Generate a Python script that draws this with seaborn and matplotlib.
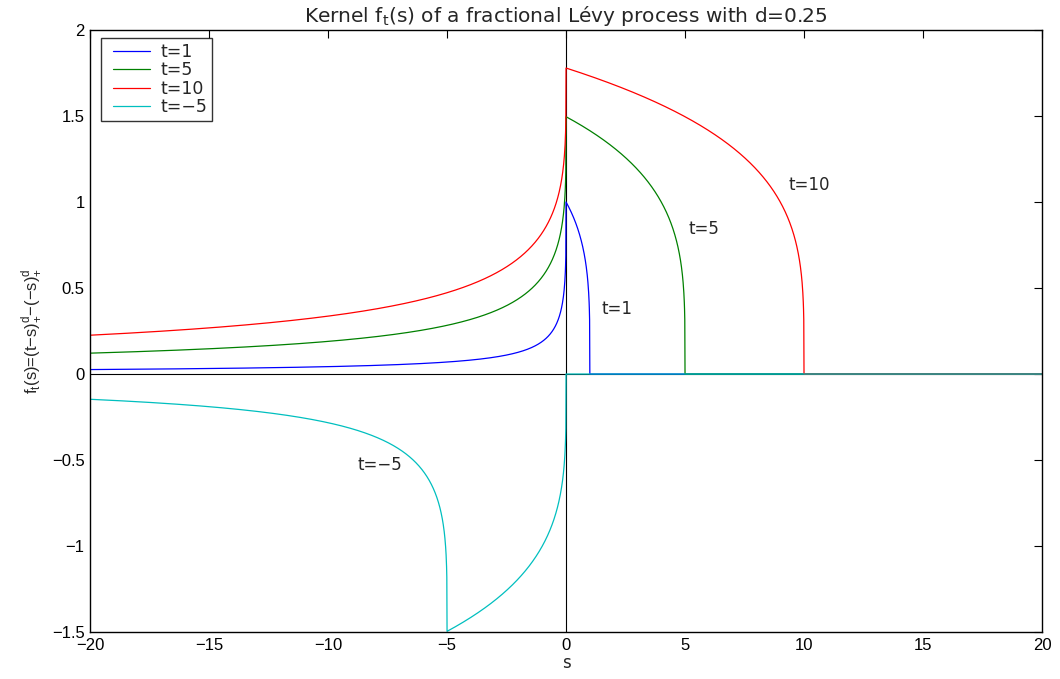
import numpy as np
import pandas as pd
import matplotlib
matplotlib.use("Agg")
import matplotlib.pyplot as plt
from matplotlib.lines import Line2D
from matplotlib.legend_handler import HandlerLine2D
import seaborn as sns

# Parameters
d = 0.25
t_values = [1, 5, 10, -5]
labels = ["t=1", "t=5", "t=10", "t=\u22125"]
colors = ["#0000ff", "#008000", "#ff0000", "#00bfbf"]
s_min, s_max, s_step = -20.0, 20.0, 0.01
annot_x = [1.5, 5.15, 9.35, -8.75]
annot_y = [0.38, 0.84, 1.1, -0.53]

s = np.arange(s_min, s_max + s_step / 2, s_step)
frames = []
for t, lab in zip(t_values, labels):
    f = np.clip(t - s, 0, None) ** d - np.clip(-s, 0, None) ** d
    frames.append(pd.DataFrame({"s": s, "f": f, "curve": lab}))
df = pd.concat(frames, ignore_index=True)

sns.set_theme(style="white")
plt.rcParams["font.family"] = ["Liberation Sans", "DejaVu Sans"]
plt.rcParams["axes.unicode_minus"] = True
plt.rcParams["mathtext.fontset"] = "custom"
plt.rcParams["mathtext.rm"] = "DejaVu Sans"

fig = plt.figure(figsize=(10.6, 6.79), dpi=100)
ax = fig.add_axes([0.085, 0.069, 0.898, 0.887])

sns.lineplot(data=df, x="s", y="f", hue="curve", hue_order=labels,
             palette=colors, linewidth=0.9, ax=ax, estimator=None, sort=False)

ax.axhline(0, color="black", linewidth=0.8, zorder=0)
ax.axvline(0, color="black", linewidth=0.8, zorder=0)

ax.set_xlim(-20, 20)
ax.set_ylim(-1.5, 2)
ax.set_xticks(np.arange(-20, 21, 5))
ax.set_yticks(np.arange(-1.5, 2.01, 0.5))
ax.set_yticklabels(["\u22121.5", "\u22121", "\u22120.5", "0", "0.5", "1", "1.5", "2"])
ax.set_xticklabels(["\u221220", "\u221215", "\u221210", "\u22125", "0", "5", "10", "15", "20"])
ax.tick_params(direction="in", length=6, width=0.8, labelsize=12, top=True, right=True,
               colors="black", pad=4)
ax.tick_params(axis="both", which="both", labeltop=False, labelright=False)
for sp in ax.spines.values():
    sp.set_color("black")
    sp.set_linewidth(1.0)

dv = "DejaVu Sans"
ax.set_xlabel("s", fontsize=12, family=dv, labelpad=1)
ylab = ("f$_\\mathregular{t}$(s)=(t\u2212s)$^\\mathregular{d}_\\mathregular{+}$"
        "\u2212(\u2212s)$^\\mathregular{d}_\\mathregular{+}$")
ax.set_ylabel(ylab, fontsize=12, family="Liberation Sans")
ax.yaxis.set_label_coords(-0.049, 0.5)
ax.set_title("Kernel f$_\\mathregular{t}$(s) of a fractional L\u00e9vy process with d=0.25",
             fontsize=14.5, family=dv, pad=6)

for lab, xx, yy in zip(labels, annot_x, annot_y):
    ax.text(xx, yy, lab, fontsize=12, family=dv, ha="left", va="center")

leg = ax.legend(loc="upper left", prop={"family": dv, "size": 12.5}, frameon=True, fancybox=False,
                handlelength=2.9, borderpad=0.3, labelspacing=0.02, handletextpad=0.2,
                numpoints=2, handler_map={Line2D: HandlerLine2D(marker_pad=0.4, numpoints=2)},
                borderaxespad=0.0, bbox_to_anchor=(0.0116, 0.987))
leg.get_frame().set_edgecolor("black")
leg.get_frame().set_linewidth(1.0)

fig.savefig("out.png", dpi=100)
